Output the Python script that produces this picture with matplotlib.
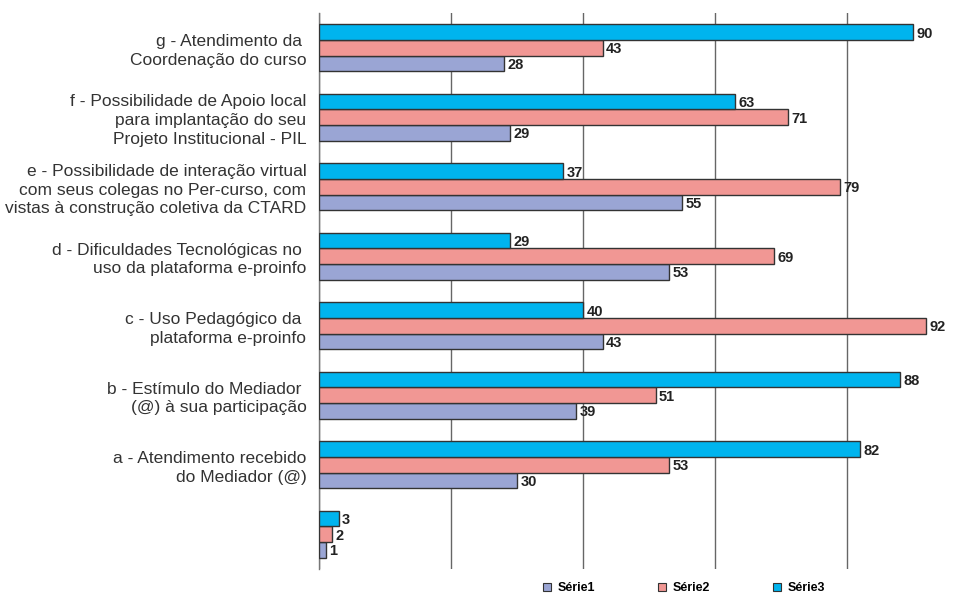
import matplotlib
matplotlib.use("Agg")
import matplotlib.pyplot as plt
import numpy as np
from matplotlib.patches import Patch

plt.rcParams['font.family'] = ['Liberation Sans', 'DejaVu Sans']

# categorias de baixo para cima
categorias = [
    "",
    "a - Atendimento recebido\ndo Mediador (@)",
    "b - Estímulo do Mediador \n(@) à sua participação",
    "c - Uso Pedagógico da \nplataforma e-proinfo",
    "d - Dificuldades Tecnológicas no \nuso da plataforma e-proinfo",
    "e - Possibilidade de interação virtual\ncom seus colegas no Per-curso, com\nvistas à construção coletiva da CTARD",
    "f - Possibilidade de Apoio local\npara implantação do seu\nProjeto Institucional - PIL",
    "g - Atendimento da \nCoordenação do curso",
]
serie1 = [1, 30, 39, 43, 53, 55, 29, 28]
serie2 = [2, 53, 51, 92, 69, 79, 71, 43]
serie3 = [3, 82, 88, 40, 29, 37, 63, 90]
nomes = ["Série1", "Série2", "Série3"]
cores = ["#9AA5D4", "#F19794", "#00B4EE"]

fig = plt.figure(figsize=(9.7, 5.96), dpi=100)
ax = fig.add_axes([319 / 970, 27 / 596, 660 / 970, 556 / 596])

y = np.arange(len(categorias))
h = 0.224
for i, (vals, cor) in enumerate(zip([serie1, serie2, serie3], cores)):
    pos = y + (i - 1) * h
    ax.barh(pos, vals, height=h, color=cor, edgecolor="#333333", linewidth=1, zorder=3)
    for p, v in zip(pos, vals):
        ax.text(v + 0.5, p - 0.02, str(v), va="center", ha="left",
                fontsize=10.5, fontweight="bold", color="#222222", zorder=4)

ax.set_xlim(0, 100)
ax.set_ylim(-0.5, len(categorias) - 0.5)
ax.set_xticks([0, 20, 40, 60, 80, 100])
ax.xaxis.grid(True, color="#666666", linewidth=1)
ax.set_axisbelow(True)
ax.tick_params(axis="x", length=0, labelbottom=False)
ax.tick_params(axis="y", length=0)
ax.set_yticks(y)
ax.set_yticklabels(categorias, fontsize=12.5, color="#333333", linespacing=1.3)
ax.yaxis.set_tick_params(pad=9)
for s in ["top", "right", "bottom"]:
    ax.spines[s].set_visible(False)
ax.spines["left"].set_color("#777777")
ax.spines["left"].set_linewidth(1)

handles = [Patch(facecolor=c, edgecolor="#333333", linewidth=0.8, label=n)
           for c, n in zip(cores, nomes)]
fig.legend(handles=handles, loc="center", bbox_to_anchor=(0.705, 0.013), ncol=3,
           frameon=False, prop={"size": 9, "weight": "bold"},
           handlelength=0.7, handleheight=0.7, handletextpad=0.5, columnspacing=5.0)

fig.savefig("out.png", dpi=100)
